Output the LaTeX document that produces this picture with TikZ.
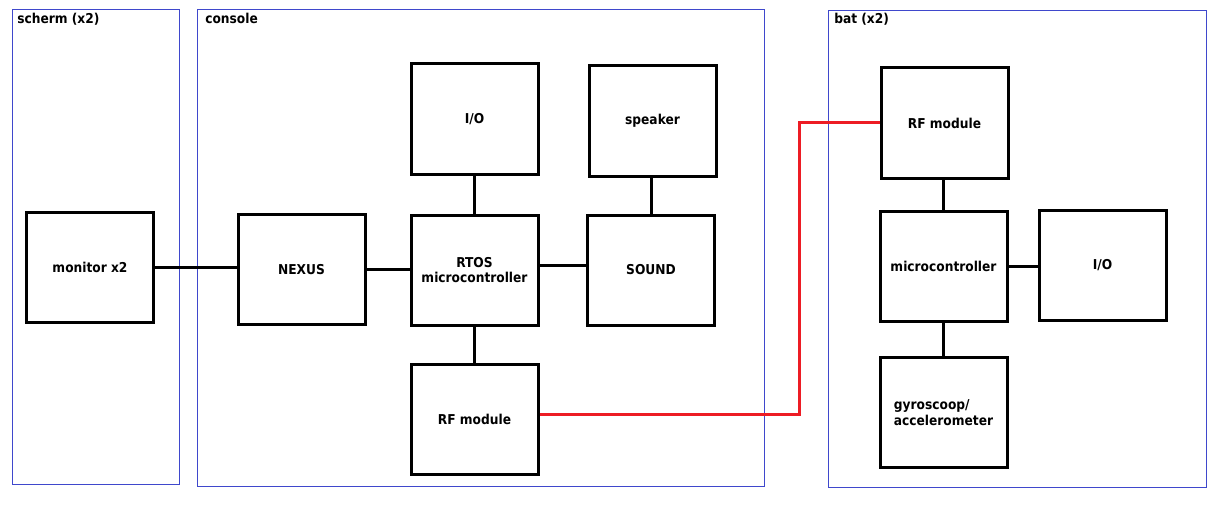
\documentclass[tikz,border=0pt]{standalone}
\usepackage{fontspec}
\setmainfont{DejaVu Sans Condensed}[BoldFont={DejaVu Sans Condensed Bold}]
\usepackage{tikz}
\definecolor{groupblue}{HTML}{3F48CC}
\definecolor{radiored}{HTML}{ED1C24}

\begin{document}
\begin{tikzpicture}[x=0.75pt, y=-0.75pt,
    font=\fontsize{10.2}{11.6}\selectfont\bfseries,
    block/.style={draw, line width=2.25pt, minimum width=95.25pt, minimum height=82.5pt, align=center, inner sep=0pt},
    group/.style={draw=groupblue, line width=0.75pt},
    title/.style={anchor=base west, inner sep=0pt},
    wire/.style={line width=2.25pt},
    radio/.style={radiored, line width=2.25pt}]
    \useasboundingbox (0,0) rectangle (1222,510);
    % groups
    \draw[group] (12.5,9.5) rectangle (179.5,484.5);
    \draw[group] (197.5,9.5) rectangle (764.5,486.5);
    \draw[group] (828.5,10.5) rectangle (1206.5,487.5);
    \node[title] (scherm) at (17,24) {scherm (x2)};
    \node[title] (console) at (205,24) {console};
    \node[title] (bat) at (834,24) {bat (x2)};
    % blocks
    \node[block] (monitor) at (90,267.5) {monitor x2};
    \node[block] (nexus) at (301.5,269.5) {NEXUS};
    \node[block] (io) at (474.5,119) {I/O};
    \node[block] (speaker) at (652.5,121) {speaker};
    \node[block] (rtos) at (474.5,270) {RTOS\\microcontroller};
    \node[block] (sound) at (651,270) {SOUND};
    \node[block] (rfc) at (474.5,419.5) {RF module};
    \node[block] (rfb) at (944.5,123) {RF module};
    \node[block] (micro) at (943.5,266.5) {microcontroller};
    \node[block] (iob) at (1102.5,265.5) {I/O};
    \node[block, align=left] (gyro) at (943.5,412.5) {gyroscoop/\\accelerometer};
    % connections
    \draw[wire] (monitor.east) -- (monitor.east -| nexus.west);
    \draw[wire] (nexus.east) -- (nexus.east -| rtos.west);
    \draw[wire] (io) -- (rtos);
    \coordinate (rs) at ([yshift=3.75pt]rtos.east);
    \draw[wire] (rs) -- (rs -| sound.west);
    \draw[wire] (speaker.south -| sound.north) -- (sound.north);
    \draw[wire] (rtos) -- (rfc);
    \draw[wire] (rfb.south -| micro.north) -- (micro.north);
    \draw[wire] (micro.east) -- (micro.east -| iob.west);
    \draw[wire] (micro) -- (gyro);
    % radio link
    \coordinate (kink) at (799.5,0);
    \coordinate (rfout) at ([yshift=3.4pt]rfc.east);
    \draw[radio] (rfout) -| (kink |- rfb.west) -- (rfb.west);
\end{tikzpicture}
\end{document}
